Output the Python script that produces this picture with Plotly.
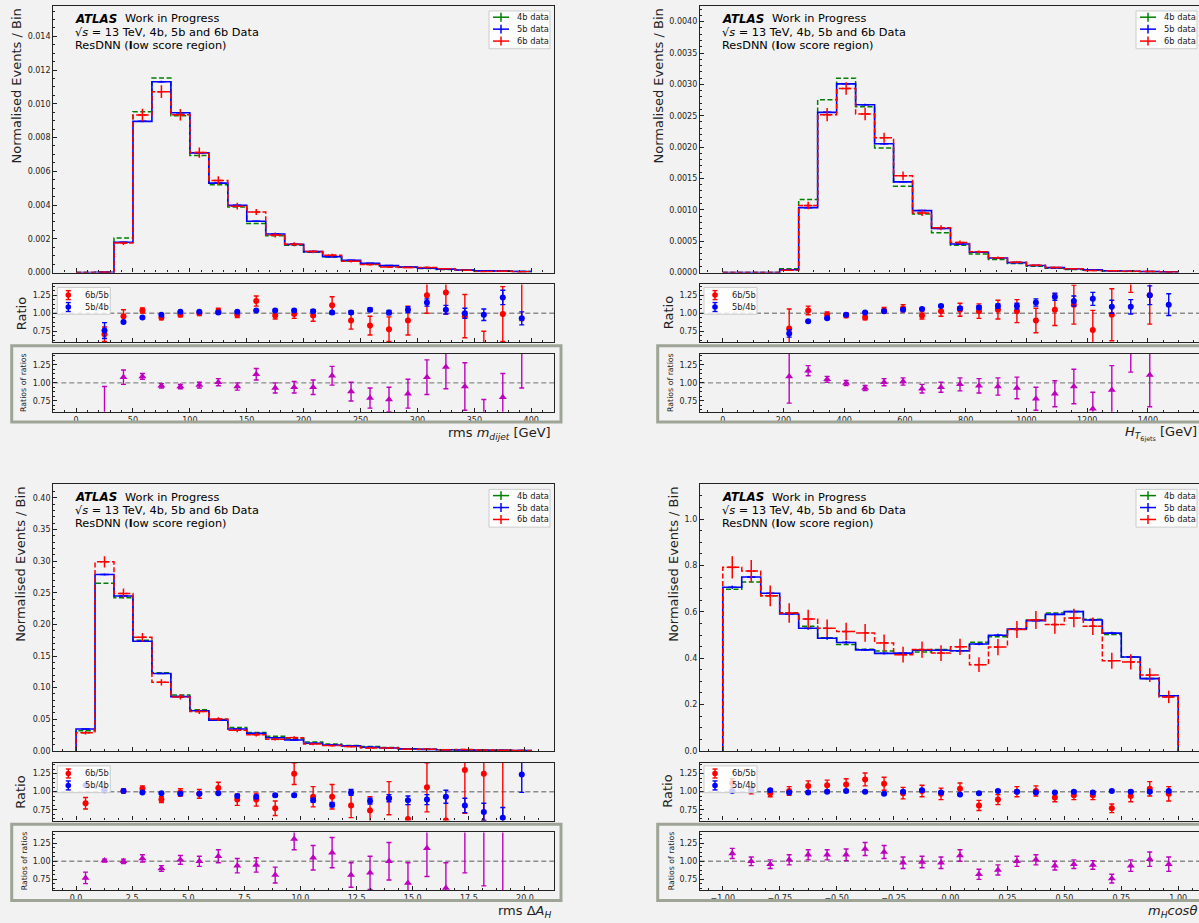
import plotly.graph_objects as go

W, H = 1199, 923
BG = '#f2f2f2'
FONT = 'DejaVu Sans'
RED, BLUE, GREEN, MAG = '#ff0000', '#0000ff', '#008000', '#bf00bf'
FRAME = '#9ea596'
AX = '#222222'

# ---------------- Panel 1: rms m_dijet ----------------
MDJ_BINS = (0, 400, 24)
MDJ_4B = [0, 0.00002, 0.00204, 0.00953, 0.01153, 0.00929, 0.00693, 0.00520, 0.00389, 0.00291, 0.00218, 0.00161,
          0.00120, 0.00092, 0.00069, 0.00051, 0.00039, 0.00031, 0.00024, 0.00018, 0.00013, 0.00010, 0.00007, 0.00006]
MDJ_5B = [0, 0.000015, 0.00179, 0.00896, 0.01131, 0.00947, 0.00709, 0.00530, 0.00399, 0.00304, 0.00228, 0.00167,
          0.00124, 0.00094, 0.00073, 0.00055, 0.00041, 0.00033, 0.00026, 0.00020, 0.00014, 0.00010, 0.00008, 0.00006]
MDJ_6B = [0, 0.00001, 0.00175, 0.00933, 0.01072, 0.00935, 0.00711, 0.00546, 0.00393, 0.00359, 0.00222, 0.00167,
          0.00124, 0.00102, 0.00067, 0.00047, 0.00033, 0.00030, 0.00030, 0.00023, 0.00013, 0.00006, 0.00008, 0.00005]
MDJ_5B_ERR = [0, 0.00001, 0.00003, 0.00005, 0.00006, 0.00005, 0.00004, 0.00004, 0.00003, 0.00003, 0.00003, 0.00002,
              0.00002, 0.00002, 0.00002, 0.00001, 0.00001, 0.00001, 0.00001, 0.00001, 0.00001, 0.00001, 0.00001, 0.00001]
MDJ_6B_ERR = [0, 0.00002, 0.00012, 0.00038, 0.00038, 0.00034, 0.00030, 0.00024, 0.00020, 0.00018, 0.00015, 0.00012,
              0.00010, 0.00009, 0.00007, 0.00006, 0.00005, 0.00005, 0.00005, 0.00004, 0.00003, 0.00002, 0.00003, 0.00002]
MDJ_R65 = [None, 0.71, 0.96, 1.04, 0.94, 0.98, 1.00, 1.03, 0.98, 1.17, 0.97, 0.99,
           0.97, 1.11, 0.90, 0.83, 0.78, 0.90, 1.25, 1.29, 0.96, 0.45, 0.99, 1.55]
MDJ_R65_ERR = [None, 0.10, 0.09, 0.035, 0.03, 0.03, 0.03, 0.04, 0.04, 0.07, 0.05, 0.06,
               0.08, 0.12, 0.12, 0.13, 0.17, 0.20, 0.25, 0.30, 0.30, 0.30, 0.38, 0.65]
MDJ_R54 = [None, 0.76, 0.88, 0.94, 0.98, 1.02, 1.02, 1.01, 1.02, 1.04, 1.04, 1.04,
           1.03, 1.01, 1.01, 1.05, 1.01, 1.05, 1.15, 1.05, 1.00, 0.98, 1.22, 0.93]
MDJ_R54_ERR = [None, 0.11, 0.01, 0.01, 0.01, 0.01, 0.01, 0.01, 0.01, 0.01, 0.015, 0.015,
               0.02, 0.02, 0.025, 0.025, 0.03, 0.04, 0.05, 0.06, 0.07, 0.08, 0.10, 0.09]
MDJ_RR = [None, 0.50, 1.08, 1.09, 0.96, 0.95, 0.97, 1.01, 0.95, 1.12, 0.93, 0.94,
          0.94, 1.10, 0.88, 0.79, 0.77, 0.85, 1.08, 1.22, 0.95, 0.45, 0.80, 1.65]
MDJ_RR_ERR = [None, 0.45, 0.10, 0.04, 0.03, 0.03, 0.04, 0.05, 0.05, 0.08, 0.07, 0.08,
              0.10, 0.13, 0.13, 0.14, 0.17, 0.20, 0.24, 0.30, 0.33, 0.32, 0.33, 0.72]

# ---------------- Panel 2: H_T 6jets ----------------
HT_BINS = (0, 1500, 24)
HT_4B = [0, 0, 0, 0.00006, 0.001166, 0.002755, 0.003098, 0.002644, 0.001984, 0.001377, 0.000934, 0.000633,
         0.000433, 0.000296, 0.000206, 0.000144, 0.000100, 0.000070, 0.000050, 0.000035, 0.000025, 0.000018, 0.000012, 0.000010]
HT_5B = [0, 0, 0, 0.000043, 0.001034, 0.002554, 0.003008, 0.002675, 0.002053, 0.001446, 0.000987, 0.000702,
         0.000454, 0.000322, 0.000232, 0.000158, 0.000112, 0.000078, 0.000060, 0.000042, 0.000027, 0.000020, 0.000015, 0.000011]
HT_6B = [0, 0, 0, 0.000035, 0.001070, 0.002517, 0.002934, 0.002528, 0.002148, 0.001541, 0.000950, 0.000712,
         0.000480, 0.000332, 0.000237, 0.000163, 0.000115, 0.000080, 0.000062, 0.000033, 0.000027, 0.000022, 0.000017, 0.000008]
HT_5B_ERR = [0, 0, 0, 0.000004, 0.00001, 0.000015, 0.000017, 0.000016, 0.000014, 0.000012, 0.00001, 0.000008,
             0.000006, 0.000005, 0.000004, 0.000004, 0.000003, 0.000003, 0.000002, 0.000002, 0.000002, 0.000002, 0.000001, 0.000001]
HT_6B_ERR = [0, 0, 0, 0.00001, 0.00006, 0.000105, 0.0001, 0.0001, 0.00008, 0.00007, 0.00005, 0.00004,
             0.00003, 0.00002, 0.00002, 0.000015, 0.00001, 0.00001, 0.00001, 0.000008, 0.000006, 0.000006, 0.000005, 0.000004]
HT_R65 = [None, None, None, 0.79, 1.04, 0.98, 0.97, 0.94, 1.04, 1.07, 0.97, 1.03,
          1.05, 1.03, 1.05, 1.03, 0.90, 1.05, 1.12, 0.77, 0.98, 1.70, 1.25, None]
HT_R65_ERR = [None, None, None, 0.27, 0.06, 0.04, 0.03, 0.03, 0.04, 0.05, 0.05, 0.07,
              0.09, 0.10, 0.13, 0.16, 0.17, 0.22, 0.27, 0.27, 0.36, 0.41, 0.40, None]
HT_R54 = [None, None, None, 0.72, 0.89, 0.93, 0.98, 1.01, 1.03, 1.05, 1.06, 1.10,
          1.07, 1.08, 1.10, 1.10, 1.15, 1.23, 1.17, 1.20, 1.09, 1.09, 1.25, 1.12]
HT_R54_ERR = [None, None, None, 0.05, 0.01, 0.01, 0.01, 0.01, 0.01, 0.01, 0.01, 0.015,
              0.02, 0.025, 0.03, 0.04, 0.05, 0.05, 0.07, 0.09, 0.09, 0.10, 0.13, 0.15]
HT_RR = [None, None, None, 1.09, 1.17, 1.05, 1.00, 0.93, 1.01, 1.02, 0.92, 0.94,
         0.98, 0.96, 0.95, 0.93, 0.78, 0.85, 0.95, 0.64, 0.90, 1.45, 1.11, None]
HT_RR_ERR = [None, None, None, 0.37, 0.07, 0.04, 0.035, 0.035, 0.05, 0.05, 0.06, 0.07,
             0.09, 0.10, 0.12, 0.15, 0.16, 0.18, 0.24, 0.23, 0.34, 0.30, 0.44, None]

# ---------------- Panel 3: rms Delta A_H ----------------
DAH_BINS = (0, 20.28, 24)
DAH_4B = [0.0320, 0.265, 0.242, 0.1749, 0.1236, 0.0885, 0.0649, 0.0497, 0.0372, 0.0293, 0.0230, 0.0194,
          0.0141, 0.0110, 0.0084, 0.0068, 0.0052, 0.0036, 0.0028, 0.0020, 0.0016, 0.0014, 0.0011, 0.0004]
DAH_5B = [0.0346, 0.279, 0.245, 0.1733, 0.1225, 0.0859, 0.0634, 0.0487, 0.0346, 0.0277, 0.0209, 0.0173,
          0.0120, 0.0094, 0.0079, 0.0058, 0.0046, 0.0032, 0.0025, 0.0019, 0.0014, 0.0010, 0.0008, 0.0007]
DAH_6B = [0.0288, 0.299, 0.249, 0.1796, 0.1084, 0.0853, 0.0623, 0.0503, 0.0325, 0.0257, 0.0183, 0.0210,
          0.0110, 0.0084, 0.0068, 0.0047, 0.0046, 0.0028, 0.0027, 0.0018, 0.0021, 0.0013, 0.0009, 0.0006]
DAH_5B_ERR = [0.0005, 0.0015, 0.0014, 0.0012, 0.001, 0.0008, 0.0007, 0.0006, 0.0005, 0.0005, 0.0004, 0.0004,
              0.0003, 0.0003, 0.0003, 0.0002, 0.0002, 0.0002, 0.0002, 0.0001, 0.0001, 0.0001, 0.0001, 0.0001]
DAH_6B_ERR = [0.003, 0.009, 0.008, 0.007, 0.005, 0.004, 0.004, 0.003, 0.003, 0.003, 0.002, 0.002,
              0.002, 0.0015, 0.0015, 0.001, 0.001, 0.001, 0.001, 0.0008, 0.0008, 0.0006, 0.0005, 0.0004]
DAH_R65 = [0.84, 1.03, 1.01, 1.04, 0.89, 0.99, 0.97, 1.05, 0.89, 0.89, 0.77, 1.25,
           0.93, 0.93, 0.81, 0.74, 0.91, 0.62, 1.06, 0.60, 1.30, 1.25, 1.50, None]
DAH_R65_ERR = [0.08, 0.03, 0.03, 0.04, 0.04, 0.05, 0.06, 0.08, 0.08, 0.09, 0.10, 0.15,
               0.14, 0.17, 0.17, 0.19, 0.23, 0.20, 0.34, 0.32, 0.60, 0.65, 1.00, None]
DAH_R54 = [1.09, 1.02, 1.01, 0.99, 0.98, 0.97, 0.97, 0.98, 0.94, 0.93, 0.95, 0.95,
           0.88, 0.82, 0.99, 0.87, 0.91, 0.88, 0.89, 0.93, 0.81, 0.72, 0.64, 1.24]
DAH_R54_ERR = [0.015, 0.01, 0.01, 0.01, 0.01, 0.01, 0.01, 0.01, 0.015, 0.02, 0.02, 0.02,
               0.025, 0.03, 0.04, 0.04, 0.05, 0.06, 0.07, 0.09, 0.10, 0.12, 0.14, 0.25]
DAH_RR = [0.77, 1.01, 1.00, 1.04, 0.90, 1.02, 1.00, 1.07, 0.94, 0.95, 0.81, 1.31,
          1.05, 1.12, 0.81, 0.84, 1.00, 0.70, 1.18, 0.63, 1.55, 1.60, 1.70, None]
DAH_RR_ERR = [0.08, 0.02, 0.03, 0.05, 0.04, 0.06, 0.07, 0.09, 0.10, 0.10, 0.11, 0.15,
              0.17, 0.21, 0.17, 0.23, 0.26, 0.28, 0.39, 0.35, 0.71, 0.94, 1.20, None]

# ---------------- Panel 4: m_H cos(theta) ----------------
COS_BINS = (-1.0, 1.0, 24)
COS_4B = [0.698, 0.729, 0.669, 0.596, 0.538, 0.488, 0.459, 0.439, 0.431, 0.418, 0.427, 0.437,
          0.432, 0.469, 0.492, 0.526, 0.565, 0.595, 0.601, 0.568, 0.502, 0.405, 0.312, 0.235]
COS_5B = [0.706, 0.750, 0.680, 0.591, 0.529, 0.486, 0.468, 0.436, 0.421, 0.422, 0.435, 0.434,
          0.432, 0.461, 0.499, 0.526, 0.562, 0.589, 0.601, 0.565, 0.508, 0.405, 0.312, 0.238]
COS_6B = [0.792, 0.776, 0.669, 0.595, 0.569, 0.529, 0.515, 0.509, 0.466, 0.415, 0.437, 0.422,
          0.449, 0.372, 0.448, 0.524, 0.565, 0.545, 0.573, 0.538, 0.389, 0.384, 0.327, 0.233]
COS_5B_ERR = [0.007, 0.007, 0.007, 0.006, 0.006, 0.006, 0.006, 0.005, 0.005, 0.005, 0.005, 0.005,
              0.005, 0.005, 0.006, 0.006, 0.006, 0.006, 0.006, 0.006, 0.006, 0.005, 0.005, 0.004]
COS_6B_ERR = [0.048, 0.048, 0.045, 0.042, 0.040, 0.038, 0.038, 0.038, 0.036, 0.034, 0.035, 0.034,
              0.035, 0.032, 0.035, 0.037, 0.039, 0.040, 0.040, 0.038, 0.034, 0.033, 0.030, 0.027]
COS_R65 = [1.12, 1.02, 0.98, 1.01, 1.08, 1.09, 1.10, 1.17, 1.11, 0.98, 1.01, 0.97,
           1.04, 0.81, 0.89, 1.00, 1.01, 0.92, 0.95, 0.95, 0.77, 0.94, 1.04, 0.97]
COS_R65_ERR = [0.06, 0.05, 0.05, 0.06, 0.07, 0.07, 0.08, 0.09, 0.09, 0.08, 0.08, 0.08,
               0.08, 0.07, 0.07, 0.07, 0.07, 0.06, 0.06, 0.06, 0.06, 0.08, 0.10, 0.10]
COS_R54 = [1.01, 1.02, 1.02, 0.99, 0.99, 1.00, 1.01, 1.00, 0.97, 1.00, 1.02, 0.99,
           0.96, 0.98, 1.01, 1.00, 0.99, 0.99, 1.00, 0.99, 1.01, 1.00, 1.00, 1.01]
COS_R54_ERR = [0.012, 0.012, 0.011, 0.011, 0.011, 0.011, 0.011, 0.011, 0.011, 0.011, 0.011, 0.011,
               0.011, 0.011, 0.011, 0.011, 0.011, 0.011, 0.011, 0.011, 0.012, 0.012, 0.013, 0.014]
COS_RR = [1.11, 1.00, 0.96, 1.02, 1.09, 1.09, 1.09, 1.17, 1.13, 0.98, 0.99, 0.98,
          1.08, 0.82, 0.88, 1.00, 1.02, 0.94, 0.96, 0.95, 0.76, 0.94, 1.03, 0.96]
COS_RR_ERR = [0.07, 0.06, 0.06, 0.07, 0.07, 0.07, 0.08, 0.09, 0.09, 0.08, 0.08, 0.08,
              0.08, 0.07, 0.07, 0.07, 0.07, 0.06, 0.06, 0.06, 0.06, 0.08, 0.10, 0.10]

PANELS = [
    dict(bins=MDJ_BINS, h4=MDJ_4B, h5=MDJ_5B, h6=MDJ_6B, e5=MDJ_5B_ERR, e6=MDJ_6B_ERR,
         r65=MDJ_R65, r65e=MDJ_R65_ERR, r54=MDJ_R54, r54e=MDJ_R54_ERR, rr=MDJ_RR, rre=MDJ_RR_ERR,
         ymax=0.0158, ydt=0.002, ymdt=0.0005, yfmt='.3f', xdt=50, xmdt=10, xfmt='d',
         xtitle='rms <i>m</i><sub><i>dijet</i></sub> [GeV]', ytitle_x=16),
    dict(bins=HT_BINS, h4=HT_4B, h5=HT_5B, h6=HT_6B, e5=HT_5B_ERR, e6=HT_6B_ERR,
         r65=HT_R65, r65e=HT_R65_ERR, r54=HT_R54, r54e=HT_R54_ERR, rr=HT_RR, rre=HT_RR_ERR,
         ymax=0.00425, ydt=0.0005, ymdt=0.0001, yfmt='.4f', xdt=200, xmdt=50, xfmt='d',
         xtitle='<i>H</i><sub><i>T</i><sub>6jets</sub></sub> [GeV]', ytitle_x=658),
    dict(bins=DAH_BINS, h4=DAH_4B, h5=DAH_5B, h6=DAH_6B, e5=DAH_5B_ERR, e6=DAH_6B_ERR,
         r65=DAH_R65, r65e=DAH_R65_ERR, r54=DAH_R54, r54e=DAH_R54_ERR, rr=DAH_RR, rre=DAH_RR_ERR,
         ymax=0.4215, ydt=0.05, ymdt=0.01, yfmt='.2f', xdt=2.5, xmdt=0.625, xfmt='.1f',
         xtitle='rms Δ<i>A</i><sub><i>H</i></sub>', ytitle_x=21),
    dict(bins=COS_BINS, h4=COS_4B, h5=COS_5B, h6=COS_6B, e5=COS_5B_ERR, e6=COS_6B_ERR,
         r65=COS_R65, r65e=COS_R65_ERR, r54=COS_R54, r54e=COS_R54_ERR, rr=COS_RR, rre=COS_RR_ERR,
         ymax=1.15, ydt=0.2, ymdt=0.05, yfmt='.1f', xdt=0.25, xmdt=0.0625, xfmt='.2f',
         xtitle='<i>m</i><sub><i>H</i></sub><i>cosθ</i>', ytitle_x=674),
]

# ---------------- geometry (pixels, top-left origin) ----------------
COL_X = [(53.3, 554.0), (700.0, 1201.0)]
ROW_DY = [0, 481]
MAIN_Y = (6.0, 274.0)
RAT_Y = (286.0, 344.0)
ROR_Y = (356.0, 414.0)
FRAME_X = [(11.7, 561.0), (657.7, 1215.0)]
FRAME_Y = (347.7, 424.3)
RATIO_LABEL_X = [21, 668]
ROR_LABEL_X = [24, 671]
XTITLE_RIGHT = [553, 1199]
XTITLE_Y = 435.5


def X(p):
    return p / W


def Y(p):
    return 1 - p / H


fig = go.Figure()
layout = dict(width=W, height=H, margin=dict(l=0, r=0, t=0, b=0), autosize=False,
              paper_bgcolor=BG, plot_bgcolor=BG, showlegend=False,
              font=dict(family=FONT, color=AX))
shapes, annots = [], []


def ax_names(n):
    return ('x' if n == 1 else f'x{n}', 'y' if n == 1 else f'y{n}',
            'xaxis' if n == 1 else f'xaxis{n}', 'yaxis' if n == 1 else f'yaxis{n}')


def make_axes(n, xdom, xrng, ydom, yrng, p, ydt, ymdt, yfmt, xlabels, ymirror):
    xr, yr, xk, yk = ax_names(n)
    tickfont = dict(size=8, color=AX, family=FONT)
    layout[xk] = dict(domain=xdom, range=xrng, anchor=yr, showline=True, linecolor=AX, linewidth=1.3,
                      mirror=True, ticks='inside', ticklen=4, tickwidth=1, tickcolor=AX,
                      tick0=0, dtick=p['xdt'], tickformat=p['xfmt'],
                      minor=dict(ticks='inside', ticklen=2, tickcolor=AX, tick0=0, dtick=p['xmdt']),
                      showgrid=False, zeroline=False, showticklabels=xlabels, tickfont=tickfont)
    layout[yk] = dict(domain=ydom, range=yrng, anchor=xr, showline=True, linecolor=AX, linewidth=1.3,
                      mirror=ymirror, ticks='inside', ticklen=4, tickwidth=1, tickcolor=AX,
                      tick0=0, dtick=ydt, tickformat=yfmt,
                      minor=dict(ticks='inside', ticklen=2, tickcolor=AX, tick0=0, dtick=ymdt),
                      showgrid=False, zeroline=False, tickfont=tickfont)
    return xr, yr


for k, p in enumerate(PANELS):
    col, row = k % 2, k // 2
    dy = ROW_DY[row]
    lo, hi, nb = p['bins']
    width = (hi - lo) / nb
    edges = [lo + i * width for i in range(nb + 1)]
    centers = [lo + (i + 0.5) * width for i in range(nb)]
    # x range with matplotlib margins, cropped at the window edge
    full = (lo - 0.05 * (hi - lo), hi + 0.05 * (hi - lo))
    px0, px1 = COL_X[col]
    vis1 = min(px1, W)
    xr1 = full[0] + (full[1] - full[0]) * (vis1 - px0) / (px1 - px0)
    xdom = [X(px0), X(vis1)]
    xrng = [full[0], xr1]
    ymirror = (col == 0)

    n_main, n_rat, n_ror = 3 * k + 1, 3 * k + 2, 3 * k + 3
    xm, ym = make_axes(n_main, xdom, xrng, [Y(MAIN_Y[1] + dy), Y(MAIN_Y[0] + dy)], [0, p['ymax']],
                       p, p['ydt'], p['ymdt'], p['yfmt'], False, ymirror)
    xq, yq = make_axes(n_rat, xdom, xrng, [Y(RAT_Y[1] + dy), Y(RAT_Y[0] + dy)], [0.6, 1.4],
                       p, 0.25, 0.0625, '.2f', False, ymirror)
    xo, yo = make_axes(n_ror, xdom, xrng, [Y(ROR_Y[1] + dy), Y(ROR_Y[0] + dy)], [0.6, 1.4],
                       p, 0.25, 0.0625, '.2f', True, ymirror)

    # ---- main histograms (step) ----
    def step(vals):
        xs = [edges[0]] + edges[:-1] + [edges[-1], edges[-1]]
        ys = [0] + list(vals) + [vals[-1], 0]
        return xs, ys

    for vals, color, dash, lw in [(p['h4'], GREEN, '5px,2.5px', 1.5), (p['h5'], BLUE, 'solid', 1.6),
                                  (p['h6'], RED, '5px,2.5px', 1.5)]:
        xs, ys = step(vals)
        fig.add_trace(go.Scatter(x=xs, y=ys, mode='lines', line=dict(color=color, width=lw, dash=dash, shape='hv'),
                                 xaxis=xm, yaxis=ym, hoverinfo='skip'))
    # error crosses
    for vals, errs, color in [(p['h5'], p['e5'], BLUE), (p['h6'], p['e6'], RED)]:
        idx = [i for i in range(nb) if vals[i] > 0]
        fig.add_trace(go.Scatter(
            x=[centers[i] for i in idx], y=[vals[i] for i in idx], mode='markers',
            marker=dict(size=1, color='rgba(0,0,0,0)'),
            error_y=dict(type='data', array=[errs[i] for i in idx], color=color, thickness=1.5, width=0),
            error_x=dict(type='constant', value=width * 0.22, color=color, thickness=1.5, width=0),
            xaxis=xm, yaxis=ym, hoverinfo='skip'))

    # ---- ratio panel ----
    shapes.append(dict(type='line', xref=f'{xq} domain', yref=yq, x0=0, x1=1, y0=1, y1=1,
                       line=dict(color='#8c8c8c', width=1.4, dash='5px,3px'), layer='below'))
    for vals, errs, color in [(p['r65'], p['r65e'], RED), (p['r54'], p['r54e'], BLUE)]:
        fig.add_trace(go.Scatter(x=centers, y=vals, mode='markers',
                                 marker=dict(size=6, color=color, symbol='circle'),
                                 error_y=dict(type='data', array=errs, color=color, thickness=1.4, width=2.5),
                                 xaxis=xq, yaxis=yq, hoverinfo='skip'))
    # ---- ratio of ratios panel ----
    shapes.append(dict(type='line', xref=f'{xo} domain', yref=yo, x0=0, x1=1, y0=1, y1=1,
                       line=dict(color='#8c8c8c', width=1.4, dash='5px,3px'), layer='below'))
    fig.add_trace(go.Scatter(x=centers, y=p['rr'], mode='markers',
                             marker=dict(size=7, color=MAG, symbol='triangle-up'),
                             error_y=dict(type='data', array=p['rre'], color=MAG, thickness=1.4, width=2.5),
                             xaxis=xo, yaxis=yo, hoverinfo='skip'))

    # ---- frame around ratio-of-ratios ----
    fx0, fx1 = FRAME_X[col]
    shapes.append(dict(type='rect', xref='paper', yref='paper', x0=X(fx0), x1=X(fx1),
                       y0=Y(FRAME_Y[1] + dy), y1=Y(FRAME_Y[0] + dy),
                       line=dict(color=FRAME, width=3), fillcolor='rgba(0,0,0,0)', layer='above'))

    # ---- main legend ----
    right = px1 - 4
    left = right - 61
    top = MAIN_Y[0] + dy + 5
    shapes.append(dict(type='rect', xref='paper', yref='paper', x0=X(left), x1=X(right),
                       y0=Y(top + 38), y1=Y(top), line=dict(color='#cccccc', width=1),
                       fillcolor='rgba(255,255,255,0.8)', layer='above'))
    for i, (lab, color) in enumerate([('4b data', GREEN), ('5b data', BLUE), ('6b data', RED)]):
        yy = MAIN_Y[0] + dy + 11.3 + 12 * i
        shapes.append(dict(type='line', xref='paper', yref='paper', x0=X(left + 4), x1=X(left + 20),
                           y0=Y(yy), y1=Y(yy), line=dict(color=color, width=1.5), layer='above'))
        shapes.append(dict(type='line', xref='paper', yref='paper', x0=X(left + 12), x1=X(left + 12),
                           y0=Y(yy - 4.5), y1=Y(yy + 4.5), line=dict(color=color, width=1.5), layer='above'))
        annots.append(dict(text=lab, xref='paper', yref='paper', x=X(left + 26), y=Y(yy),
                           xanchor='left', yanchor='middle', showarrow=False,
                           font=dict(size=8.3, color=AX, family=FONT)))

    # ---- ratio legend ----
    left = px0 + 4
    top = RAT_Y[0] + dy + 3
    shapes.append(dict(type='rect', xref='paper', yref='paper', x0=X(left), x1=X(left + 53),
                       y0=Y(top + 27), y1=Y(top), line=dict(color='#cccccc', width=1),
                       fillcolor='rgba(255,255,255,0.8)', layer='above'))
    for i, (lab, color) in enumerate([('6b/5b', RED), ('5b/4b', BLUE)]):
        yy = RAT_Y[0] + dy + 10.7 + 12 * i
        mx = left + 11
        shapes.append(dict(type='line', xref='paper', yref='paper', x0=X(mx), x1=X(mx),
                           y0=Y(yy - 4.5), y1=Y(yy + 4.5), line=dict(color=color, width=1.4), layer='above'))
        for cy in (yy - 4.5, yy + 4.5):
            shapes.append(dict(type='line', xref='paper', yref='paper', x0=X(mx - 2.5), x1=X(mx + 2.5),
                               y0=Y(cy), y1=Y(cy), line=dict(color=color, width=1.4), layer='above'))
        shapes.append(dict(type='circle', xref='paper', yref='paper', x0=X(mx - 2.8), x1=X(mx + 2.8),
                           y0=Y(yy + 2.8), y1=Y(yy - 2.8), line=dict(color=color, width=0),
                           fillcolor=color, layer='above'))
        annots.append(dict(text=lab, xref='paper', yref='paper', x=X(left + 26), y=Y(yy),
                           xanchor='left', yanchor='middle', showarrow=False,
                           font=dict(size=8.3, color=AX, family=FONT)))

    # ---- ATLAS labels ----
    tx = px0 + 20
    ty = MAIN_Y[0] + dy
    annots.append(dict(text='<b><i>ATLAS</i></b>', xref='paper', yref='paper', x=X(tx), y=Y(ty + 13),
                       xanchor='left', yanchor='middle', showarrow=False,
                       font=dict(size=11.8, color='#000000', family=FONT)))
    annots.append(dict(text='Work in Progress', xref='paper', yref='paper', x=X(tx + 50), y=Y(ty + 13),
                       xanchor='left', yanchor='middle', showarrow=False,
                       font=dict(size=11.3, color='#000000', family=FONT)))
    annots.append(dict(text='√<i>s</i> = 13 TeV, 4b, 5b and 6b Data', xref='paper', yref='paper',
                       x=X(tx), y=Y(ty + 26.3), xanchor='left', yanchor='middle', showarrow=False,
                       font=dict(size=11.3, color='#000000', family=FONT)))
    annots.append(dict(text='ResDNN (<b>l</b>ow score region)', xref='paper', yref='paper',
                       x=X(tx), y=Y(ty + 39.7), xanchor='left', yanchor='middle', showarrow=False,
                       font=dict(size=11.3, color='#000000', family=FONT)))

    # ---- axis titles ----
    annots.append(dict(text='Normalised Events / Bin', xref='paper', yref='paper',
                       x=X(p['ytitle_x']), y=Y(MAIN_Y[0] + dy + 1), xanchor='center', yanchor='top',
                       textangle=-90, showarrow=False, font=dict(size=13, color=AX, family=FONT)))
    annots.append(dict(text='Ratio', xref='paper', yref='paper',
                       x=X(RATIO_LABEL_X[col]), y=Y((RAT_Y[0] + RAT_Y[1]) / 2 + dy), xanchor='center',
                       yanchor='middle', textangle=-90, showarrow=False,
                       font=dict(size=13, color=AX, family=FONT)))
    annots.append(dict(text='Ratios of ratios', xref='paper', yref='paper',
                       x=X(ROR_LABEL_X[col]), y=Y((ROR_Y[0] + ROR_Y[1]) / 2 + dy), xanchor='center',
                       yanchor='middle', textangle=-90, showarrow=False,
                       font=dict(size=7.8, color=AX, family=FONT)))
    annots.append(dict(text=p['xtitle'], xref='paper', yref='paper',
                       x=X(XTITLE_RIGHT[col]), y=Y(XTITLE_Y + dy), xanchor='right', yanchor='middle',
                       showarrow=False, font=dict(size=13, color=AX, family=FONT)))

layout['shapes'] = shapes
layout['annotations'] = annots
fig.update_layout(**layout)

fig.write_html("out.html", config={'displayModeBar': False},
               post_script="document.body.style.margin='0';document.body.style.overflow='hidden';")
